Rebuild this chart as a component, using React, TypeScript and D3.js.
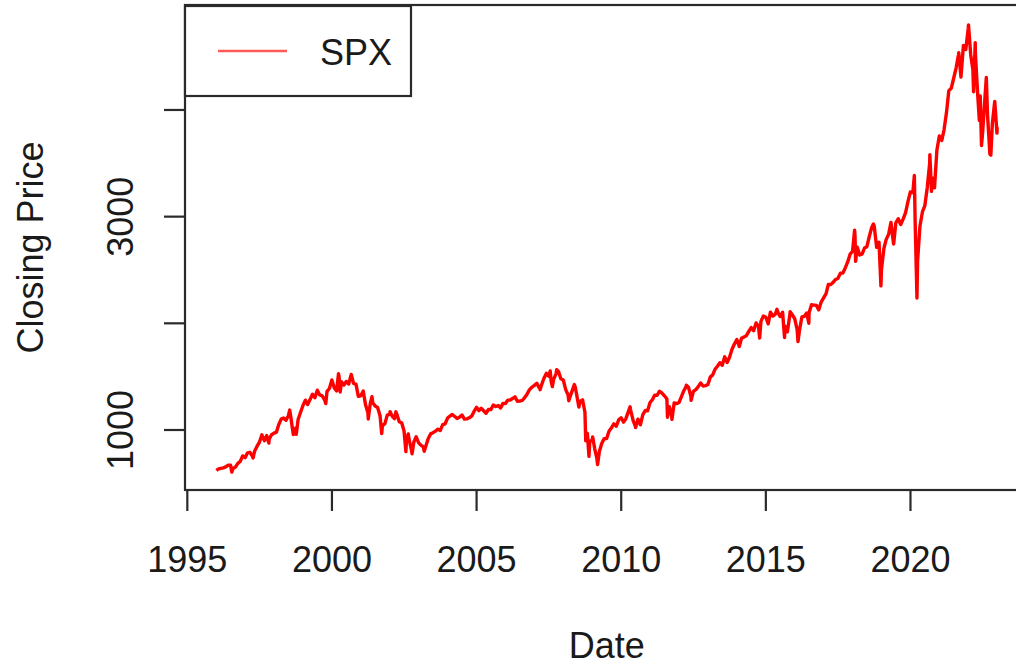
import React from "react";
import * as d3 from "d3";

// Monthly closing values of SPX, Jan 1996 .. Dec 2022 (month-end)
const firstMonth = "1996-01";
const monthlyClose: number[] = [
  636.0, 640.4, 645.5, 654.2, 669.1, 670.6, 639.9, 652.0, 687.3, 705.3, 757.0, 740.7,
  786.2, 790.8, 757.1, 801.3, 848.3, 885.1, 954.3, 899.5, 947.3, 914.6, 955.4, 970.4,
  980.3, 1049.3, 1101.8, 1111.8, 1090.8, 1133.8, 1120.7, 957.3, 1017.0, 1098.7, 1163.6, 1229.2,
  1279.6, 1238.3, 1286.4, 1335.2, 1301.8, 1372.7, 1328.7, 1320.4, 1282.7, 1362.9, 1388.9, 1469.3,
  1394.5, 1366.4, 1498.6, 1452.4, 1420.6, 1454.6, 1430.8, 1517.7, 1436.5, 1429.4, 1315.2, 1320.3,
  1366.0, 1239.9, 1160.3, 1249.5, 1255.8, 1224.4, 1211.2, 1133.6, 1040.9, 1059.8, 1139.5, 1148.1,
  1130.2, 1106.7, 1147.4, 1076.9, 1067.1, 989.8, 911.6, 916.1, 815.3, 885.8, 936.3, 879.8,
  855.7, 841.2, 848.2, 916.9, 963.6, 974.5, 990.3, 1008.0, 996.0, 1050.7, 1058.2, 1111.9,
  1131.1, 1144.9, 1126.2, 1107.3, 1120.7, 1140.8, 1101.7, 1104.2, 1114.6, 1130.2, 1173.8, 1211.9,
  1181.3, 1203.6, 1180.6, 1156.9, 1191.5, 1191.3, 1234.2, 1220.3, 1228.8, 1207.0, 1249.5, 1248.3,
  1280.1, 1280.7, 1294.8, 1310.6, 1270.1, 1270.2, 1276.7, 1303.8, 1335.9, 1377.9, 1400.6, 1418.3,
  1438.2, 1406.8, 1420.9, 1482.4, 1530.6, 1503.4, 1455.3, 1474.0, 1526.8, 1549.4, 1481.1, 1468.4,
  1378.6, 1330.6, 1322.7, 1385.6, 1400.4, 1280.0, 1267.4, 1282.8, 1166.4, 968.8, 896.2, 903.3,
  825.9, 735.1, 797.9, 872.8, 919.1, 919.3, 987.5, 1020.6, 1057.1, 1036.2, 1095.6, 1115.1,
  1073.9, 1104.5, 1169.4, 1186.7, 1089.4, 1030.7, 1101.6, 1049.3, 1141.2, 1183.3, 1180.6, 1257.6,
  1286.1, 1327.2, 1325.8, 1363.6, 1345.2, 1320.6, 1292.3, 1218.9, 1131.4, 1253.3, 1246.9, 1257.6,
  1312.4, 1365.7, 1408.5, 1397.9, 1310.3, 1362.2, 1379.3, 1406.6, 1440.7, 1412.2, 1416.2, 1426.2,
  1498.1, 1514.7, 1569.2, 1597.6, 1630.7, 1606.3, 1685.7, 1633.0, 1681.6, 1756.5, 1805.8, 1848.4,
  1782.6, 1859.5, 1872.3, 1883.9, 1923.6, 1960.2, 1930.7, 2003.4, 1972.3, 2018.1, 2067.6, 2058.9,
  1995.0, 2104.5, 2067.9, 2085.5, 2107.4, 2063.1, 2103.8, 1972.2, 1920.0, 2079.4, 2080.4, 2043.9,
  1940.2, 1932.2, 2059.7, 2065.3, 2096.9, 2098.9, 2173.6, 2170.9, 2168.3, 2126.2, 2198.8, 2238.8,
  2278.9, 2363.6, 2362.7, 2384.2, 2411.8, 2423.4, 2470.3, 2471.7, 2519.4, 2575.3, 2647.6, 2673.6,
  2823.8, 2713.8, 2640.9, 2648.1, 2705.3, 2718.4, 2816.3, 2901.5, 2914.0, 2711.7, 2760.2, 2506.9,
  2704.1, 2784.5, 2834.4, 2945.8, 2752.1, 2941.8, 2980.4, 2926.5, 2976.7, 3037.6, 3141.0, 3230.8,
  3225.5, 2954.2, 2584.6, 2912.4, 3044.3, 3100.3, 3271.1, 3500.3, 3363.0, 3270.0, 3621.6, 3756.1,
  3714.2, 3811.2, 3972.9, 4181.2, 4204.1, 4297.5, 4395.3, 4522.7, 4307.5, 4605.4, 4567.0, 4766.2,
  4515.6, 4373.9, 4530.4, 4131.9, 4132.2, 3785.4, 4130.3, 3955.0, 3585.6, 3872.0, 4080.1, 3839.5,
];

// Intra-month highs / lows that shape the daily series
const extremeDates: string[] = [
  "1996-01-02", "1996-07-16", "1997-04-11", "1997-10-27", "1998-07-17", "1998-08-31", "1998-10-08",
  "1999-10-15", "2000-03-24", "2000-04-14", "2000-09-01", "2001-04-04", "2001-05-21", "2001-09-21",
  "2002-01-04", "2002-03-19", "2002-07-23", "2002-08-22", "2002-10-09", "2003-03-11",
  "2007-02-27", "2007-03-14", "2007-07-19", "2007-08-15", "2007-10-09", "2008-03-10", "2008-05-19",
  "2008-07-15", "2008-10-10", "2008-11-20", "2009-01-06", "2009-03-09", "2010-04-23", "2010-07-02",
  "2011-04-29", "2011-08-08", "2011-10-03", "2012-04-02", "2012-06-01", "2014-10-15",
  "2015-05-21", "2015-08-25", "2015-11-03", "2016-02-11", "2016-06-27", "2018-01-26", "2018-02-08",
  "2018-09-20", "2018-12-24", "2019-04-30", "2019-06-03", "2020-02-19", "2020-03-23", "2020-09-02",
  "2020-09-23", "2021-09-02", "2022-01-03", "2022-03-08", "2022-03-29", "2022-05-20", "2022-06-16",
  "2022-08-16", "2022-10-12", "2022-12-01", "2022-12-28",
];
const extremeValues: number[] = [
  620.7, 605.0, 737.7, 876.9, 1186.8, 957.3, 959.4,
  1247.4, 1527.5, 1356.6, 1520.8, 1103.3, 1312.8, 965.8,
  1172.5, 1170.3, 797.7, 962.7, 776.8, 800.7,
  1399.0, 1377.9, 1553.1, 1406.7, 1565.2, 1273.4, 1426.6,
  1214.9, 899.2, 752.4, 934.7, 676.5, 1217.3, 1022.6,
  1363.6, 1119.5, 1099.2, 1419.0, 1278.0, 1862.5,
  2130.8, 1867.6, 2109.8, 1829.1, 2000.5, 2872.9, 2581.0,
  2930.8, 2351.1, 2945.8, 2744.5, 3386.2, 2237.4, 3580.8,
  3236.9, 4537.0, 4796.6, 4170.7, 4631.6, 3901.4, 3666.8,
  4305.2, 3577.0, 4076.6, 3783.2,
];

const yTicks = [1000, 2000, 3000, 4000];
const yLabelled = [1000, 3000];
const xTicks = [1995, 2000, 2005, 2010, 2015, 2020];

const seriesName = "SPX";
const xTitle = "Date";
const yTitle = "Closing Price";

const W = 1016;
const H = 666;
const FONT = "'Liberation Sans', Arial, Helvetica, sans-serif";

function decYear(d: Date): number {
  const y = d.getFullYear();
  const start = new Date(y, 0, 1).getTime();
  const end = new Date(y + 1, 0, 1).getTime();
  return y + (d.getTime() - start) / (end - start);
}

export default function App() {
  const parseMonth = d3.timeParse("%Y-%m");
  const parseDay = d3.timeParse("%Y-%m-%d");
  const m0 = parseMonth(firstMonth) as Date;

  const pts: { t: number; v: number }[] = [];
  monthlyClose.forEach((v, i) => {
    const monthEnd = d3.timeDay.offset(d3.timeMonth.offset(m0, i + 1), -1);
    pts.push({ t: decYear(monthEnd), v });
  });
  extremeDates.forEach((s, i) => {
    pts.push({ t: decYear(parseDay(s) as Date), v: extremeValues[i] });
  });
  pts.sort((a, b) => a.t - b.t);

  const left = 185, right = 1028.5, top = 5, bottom = 490;
  const x = d3.scaleLinear().domain([1994.92, 2024.08]).range([left, right]);
  const y = d3.scaleLinear().domain([437.5, 4984]).range([bottom, top]);

  const line = d3
    .line<{ t: number; v: number }>()
    .x((d) => x(d.t))
    .y((d) => y(d.v));

  const axisColor = "#2a2a2a";
  const tickLen = 21;

  return (
    <svg
      width={W}
      height={H}
      style={{ position: "absolute", left: 0, top: 0, background: "#fff" }}
      fontFamily={FONT}
    >
      <rect x={0} y={0} width={W} height={H} fill="#fff" />
      <defs>
        <clipPath id="plotclip">
          <rect x={left} y={top} width={right - left} height={bottom - top} />
        </clipPath>
      </defs>

      <path
        d={line(pts) || ""}
        fill="none"
        stroke="#ff0000"
        strokeWidth={3.4}
        strokeLinejoin="round"
        clipPath="url(#plotclip)"
      />

      {/* box */}
      <rect
        x={left}
        y={top}
        width={right - left}
        height={bottom - top}
        fill="none"
        stroke={axisColor}
        strokeWidth={2.2}
      />

      {/* y axis */}
      {yTicks.map((t) => (
        <line key={"yt" + t} x1={left - tickLen} x2={left} y1={y(t)} y2={y(t)} stroke={axisColor} strokeWidth={2.2} />
      ))}
      {yLabelled.map((t) => (
        <text
          key={"yl" + t}
          transform={`translate(133,${y(t)}) rotate(-90)`}
          textAnchor="middle"
          fontSize={36}
          fill="#1a1a1a"
        >
          {t}
        </text>
      ))}

      {/* x axis */}
      {xTicks.map((t) => (
        <g key={"xt" + t}>
          <line x1={x(t)} x2={x(t)} y1={bottom} y2={bottom + tickLen} stroke={axisColor} strokeWidth={2.2} />
          <text x={x(t)} y={572} textAnchor="middle" fontSize={36} fill="#1a1a1a">
            {t}
          </text>
        </g>
      ))}

      {/* titles */}
      <text x={(left + right) / 2} y={658} textAnchor="middle" fontSize={36} fill="#1a1a1a">
        {xTitle}
      </text>
      <text
        transform={`translate(43,${(top + bottom) / 2}) rotate(-90)`}
        textAnchor="middle"
        fontSize={36}
        fill="#1a1a1a"
      >
        {yTitle}
      </text>

      {/* legend */}
      <rect x={left} y={6} width={226} height={90} fill="#fff" stroke={axisColor} strokeWidth={2.2} />
      <line x1={218} x2={287} y1={51} y2={51} stroke="#ff0000" strokeOpacity={0.65} strokeWidth={2.5} />
      <text x={320} y={65} fontSize={36} fill="#1a1a1a">
        {seriesName}
      </text>
    </svg>
  );
}
